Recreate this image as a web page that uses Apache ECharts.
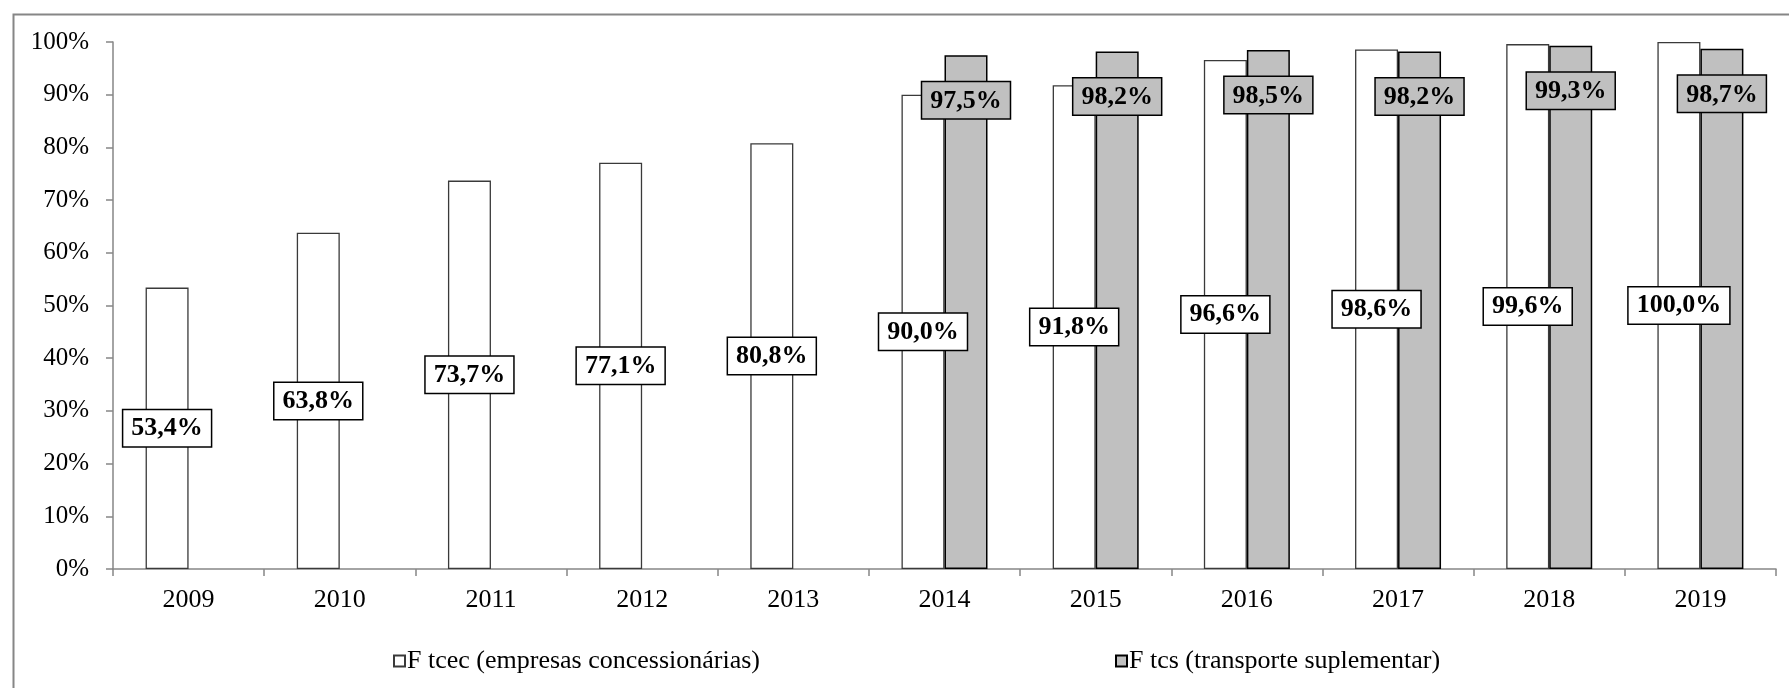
<!DOCTYPE html>
<html>
<head>
<meta charset="utf-8">
<script src="https://cdn.jsdelivr.net/npm/echarts@6/dist/echarts.min.js"></script>
<style>html,body{margin:0;padding:0;background:#fff}#c{width:1789px;height:688px}</style>
</head>
<body>
<div id="c"></div>
<script>
const categories = ['2009','2010','2011','2012','2013','2014','2015','2016','2017','2018','2019'];
const seriesNames = ['F tcec (empresas concessionárias)', 'F tcs (transporte suplementar)'];
const tcec = [53.4, 63.8, 73.7, 77.1, 80.8, 90.0, 91.8, 96.6, 98.6, 99.6, 100.0];
const tcs = [null, null, null, null, null, 97.5, 98.2, 98.5, 98.2, 99.3, 98.7];
const yTicks = [0, 10, 20, 30, 40, 50, 60, 70, 80, 90, 100];

const FONT = "'Liberation Serif', 'Times New Roman', serif";
const fmt = p => p.value == null ? '' : p.value.toFixed(1).replace('.', ',') + '%';

const chart = echarts.init(document.getElementById('c'), null, {renderer: 'canvas'});
chart.setOption({
  animation: false,
  backgroundColor: '#fff',
  graphic: [{
    type: 'rect', left: 11, top: 12, silent: true,
    shape: {width: 1800, height: 700},
    style: {fill: 'none', stroke: '#868686', lineWidth: 2}
  }],
  grid: {left: 113, right: 13, top: 42, bottom: 119, containLabel: false},
  legend: [{
    data: [seriesNames[0]], left: 388, top: 643,
    itemWidth: 11, itemHeight: 11, itemGap: 0,
    textStyle: {fontFamily: FONT, fontSize: 26, color: '#000', padding: [0, 0, 0, -3]},
    icon: 'rect'
  }, {
    data: [seriesNames[1]], left: 1110, top: 643,
    itemWidth: 11, itemHeight: 11, itemGap: 0,
    textStyle: {fontFamily: FONT, fontSize: 26, color: '#000', padding: [0, 0, 0, -3]},
    icon: 'rect'
  }],
  xAxis: {
    type: 'category', data: categories,
    axisLine: {lineStyle: {color: '#868686', width: 1.5}},
    axisTick: {show: true, length: 7, lineStyle: {color: '#868686', width: 1.5}},
    axisLabel: {fontFamily: FONT, fontSize: 26, color: '#000', margin: 18}
  },
  yAxis: {
    type: 'value', min: yTicks[0], max: yTicks[yTicks.length - 1], interval: 10,
    axisLine: {show: true, lineStyle: {color: '#868686', width: 1.5}},
    axisTick: {show: true, length: 7, lineStyle: {color: '#868686', width: 1.5}},
    splitLine: {show: false},
    axisLabel: {fontFamily: FONT, fontSize: 25, color: '#000', margin: 24, formatter: v => v + '%'}
  },
  series: [{
    name: seriesNames[0], type: 'bar', data: tcec,
    barWidth: 43, barGap: '0%',
    itemStyle: {color: '#ffffff', borderColor: '#3a3a3a', borderWidth: 1.3},
    label: {
      show: true, position: 'inside', formatter: fmt,
      fontFamily: FONT, fontSize: 26, fontWeight: 'bold', color: '#000',
      backgroundColor: '#ffffff', borderColor: '#000', borderWidth: 1.5,
      padding: [6, 8, 4, 8]
    }
  }, {
    name: seriesNames[1], type: 'bar', data: tcs,
    barWidth: 43, barGap: '0%',
    itemStyle: {color: '#c0c0c0', borderColor: '#000', borderWidth: 1.5},
    label: {
      show: true, position: 'insideTop', distance: 27, formatter: fmt,
      fontFamily: FONT, fontSize: 26, fontWeight: 'bold', color: '#000',
      backgroundColor: '#c0c0c0', borderColor: '#000', borderWidth: 1.5,
      padding: [6, 8, 4, 8]
    }
  }]
});
</script>
</body>
</html>
